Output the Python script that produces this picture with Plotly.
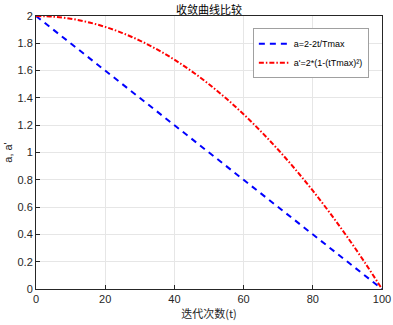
import plotly.graph_objects as go

t = [0, 5, 10, 15, 20, 25, 30, 35, 40, 45, 50, 55, 60, 65, 70, 75, 80, 85, 90, 95, 100]
a_lin = [2.0, 1.9, 1.8, 1.7, 1.6, 1.5, 1.4, 1.3, 1.2, 1.1, 1.0, 0.9, 0.8, 0.7, 0.6, 0.5, 0.4, 0.3, 0.2, 0.1, 0.0]
a_quad = [2.0, 1.995, 1.98, 1.955, 1.92, 1.875, 1.82, 1.755, 1.68, 1.595, 1.5, 1.395, 1.28, 1.155, 1.02, 0.875, 0.72, 0.555, 0.38, 0.195, 0.0]
x_ticks = [0, 20, 40, 60, 80, 100]
y_ticks = [0, 0.2, 0.4, 0.6, 0.8, 1, 1.2, 1.4, 1.6, 1.8, 2]
y_tick_labels = ["0", "0.2", "0.4", "0.6", "0.8", "1", "1.2", "1.4", "1.6", "1.8", "2"]

fig = go.Figure()
fig.add_trace(go.Scatter(x=t, y=a_lin, mode="lines", name="a=2-2t/Tmax",
                         line=dict(color="#0000ff", width=2, dash="6px,5px")))
fig.add_trace(go.Scatter(x=t, y=a_quad, mode="lines", name="a'=2*(1-(tTmax)²)",
                         line=dict(color="#ff0000", width=2, dash="5px,2px,1.5px,2px",
                                   shape="spline")))

font_family = "Liberation Sans, Arial, Noto Sans CJK SC, sans-serif"
fig.update_layout(
    width=393, height=325,
    margin=dict(l=36, r=11, t=16, b=36, autoexpand=False),
    paper_bgcolor="white", plot_bgcolor="white",
    font=dict(family=font_family, size=11, color="#262626"),
    title=dict(text="收敛曲线比较", xref="paper", x=0.5, xanchor="center",
               yref="container", y=0.97, yanchor="middle",
               font=dict(family="Noto Sans CJK SC", size=11, color="#000000")),
    showlegend=True,
    legend=dict(x=0.962, y=0.955, xanchor="right", yanchor="top",
                bgcolor="white", bordercolor="#a0a0a0", borderwidth=1,
                font=dict(size=9, color="#000000"), tracegroupgap=0,
                itemwidth=30),
)
fig.update_xaxes(range=[0, 100], tickvals=x_ticks, showgrid=True, gridcolor="#e6e6e6",
                 showline=True, linecolor="#262626", linewidth=1, mirror=True,
                 ticks="inside", ticklen=4, tickcolor="#262626", zeroline=False,
                 automargin=False,
                 title=dict(text="迭代次数(t)", standoff=6,
                            font=dict(family="Noto Sans CJK SC", size=11, color="#262626")))
fig.update_yaxes(range=[0, 2], tickvals=y_ticks, ticktext=y_tick_labels, showgrid=True,
                 gridcolor="#e6e6e6", showline=True, linecolor="#262626", linewidth=1,
                 mirror=True, ticks="inside", ticklen=4, tickcolor="#262626", zeroline=False,
                 automargin=False,
                 title=dict(text="a, a'", standoff=2, font=dict(size=11, color="#262626")))

fig.write_html("out.html", config={"displayModeBar": False},
               post_script="document.body.style.margin='0px';")
